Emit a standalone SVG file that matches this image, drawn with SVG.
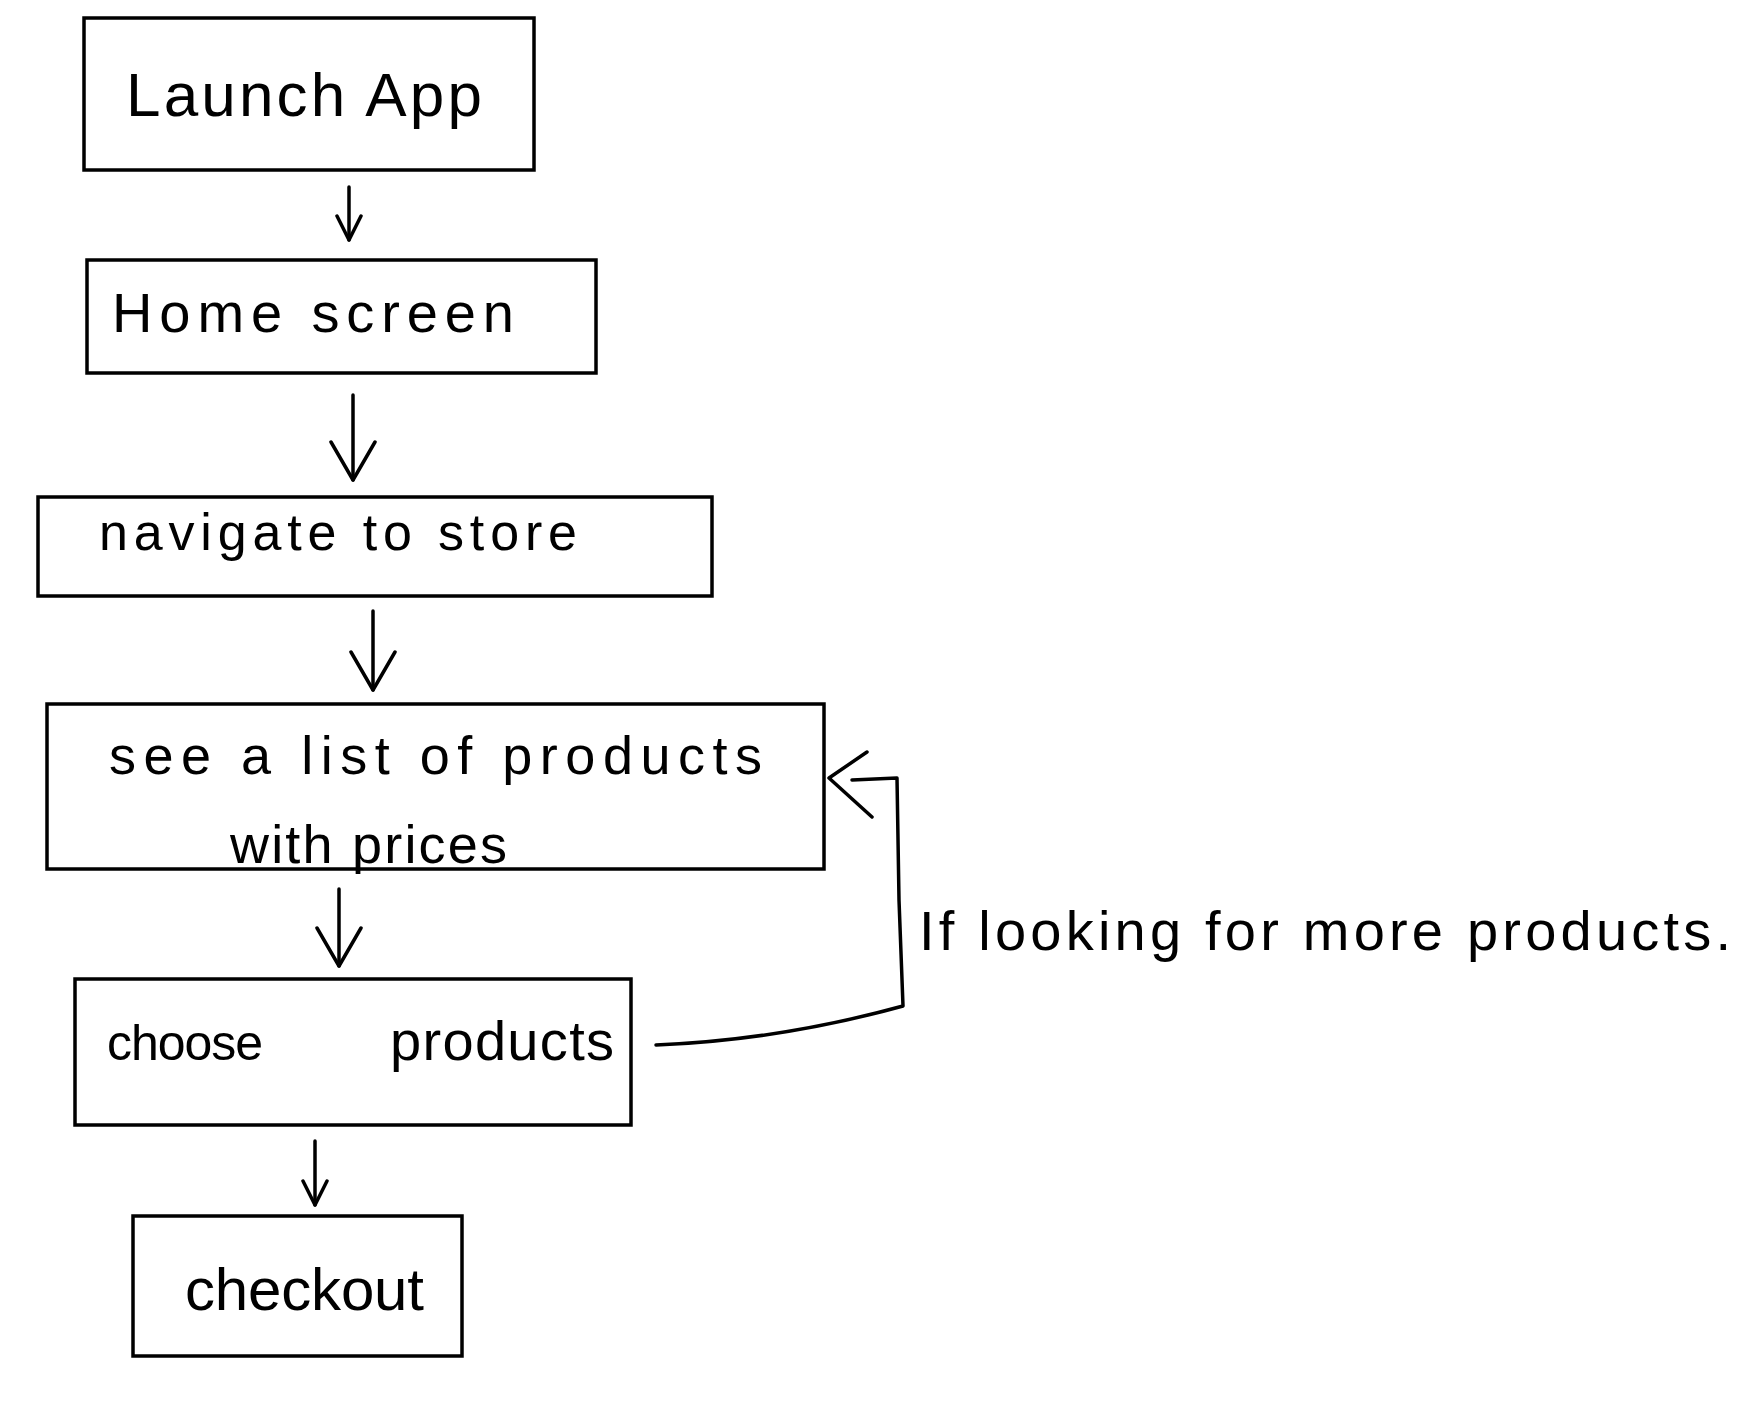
<svg xmlns="http://www.w3.org/2000/svg" width="1758" height="1403" viewBox="0 0 1758 1403">
<style>
.box{fill:#fff;stroke:#000;stroke-width:3.5}
.t{font-family:"Liberation Sans","DejaVu Sans",sans-serif;fill:#000}
.c{fill:none;stroke:#000;stroke-width:3.5;stroke-linecap:round;stroke-linejoin:round}
</style>
<defs>
<marker id="ah" viewBox="0 0 30 30" refX="28" refY="15" markerWidth="30" markerHeight="30" markerUnits="userSpaceOnUse" orient="auto">
<path d="M4 3 L28 15 L4 27" fill="none" stroke="#000" stroke-width="3.5" stroke-linecap="round" stroke-linejoin="round"/>
</marker>
<marker id="ahl" viewBox="0 0 44 50" refX="42" refY="25" markerWidth="44" markerHeight="50" markerUnits="userSpaceOnUse" orient="auto">
<path d="M4 3 L42 25 L4 47" fill="none" stroke="#000" stroke-width="3.5" stroke-linecap="round" stroke-linejoin="round"/>
</marker>
</defs>
<rect width="1758" height="1403" fill="#fff"/>
<g id="connectors">
<path class="c" d="M349 187 L349 240" marker-end="url(#ah)"/>
<path class="c" d="M353 395 L353 480" marker-end="url(#ahl)"/>
<path class="c" d="M373 611 L373 690" marker-end="url(#ahl)"/>
<path class="c" d="M339 889 L339 966" marker-end="url(#ahl)"/>
<path class="c" d="M315 1141 L315 1205" marker-end="url(#ah)"/>
<path class="c" d="M656 1045 Q 780 1040 903 1006 L 899 900 L 897 778 L 852 780"/>
<path class="c" d="M867 752 L829 778 L872 817"/>
<text class="t" x="919" y="950" font-size="56" textLength="812" lengthAdjust="spacing">If looking for more products.</text>
</g>
<g id="n1">
<rect class="box" x="84" y="18" width="450" height="152"/>
<text class="t" x="126" y="116" font-size="62" textLength="356" lengthAdjust="spacing">Launch App</text>
</g>
<g id="n2">
<rect class="box" x="87" y="260" width="509" height="113"/>
<text class="t" x="112" y="332" font-size="56" textLength="402" lengthAdjust="spacing">Home screen</text>
</g>
<g id="n3">
<rect class="box" x="38" y="497" width="674" height="99"/>
<text class="t" x="99" y="550" font-size="52" textLength="478" lengthAdjust="spacing">navigate to store</text>
</g>
<g id="n4">
<rect class="box" x="47" y="704" width="777" height="165"/>
<text class="t" x="109" y="774" font-size="54" textLength="653" lengthAdjust="spacing">see a list of products</text>
<text class="t" x="230" y="863" font-size="54" textLength="277" lengthAdjust="spacing">with prices</text>
</g>
<g id="n5">
<rect class="box" x="75" y="979" width="556" height="146"/>
<text class="t" x="107" y="1060" font-size="50" textLength="156" lengthAdjust="spacing">choose</text>
<text class="t" x="390" y="1060" font-size="56" textLength="224" lengthAdjust="spacing">products</text>
</g>
<g id="n6">
<rect class="box" x="133" y="1216" width="329" height="140"/>
<text class="t" x="185" y="1310" font-size="60" textLength="239" lengthAdjust="spacing">checkout</text>
</g>
</svg>
